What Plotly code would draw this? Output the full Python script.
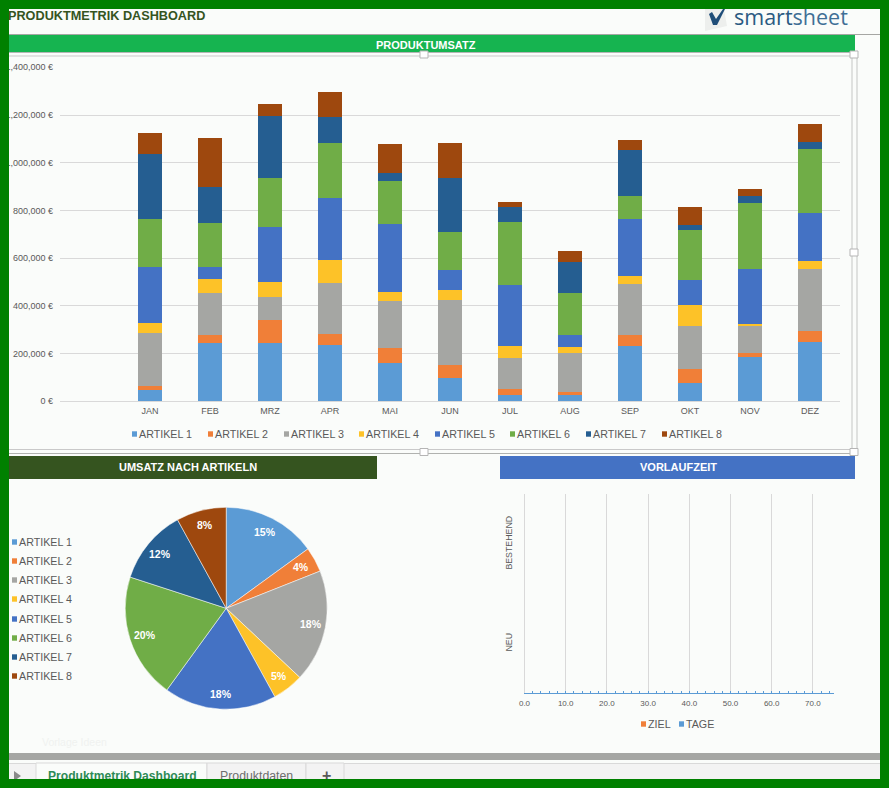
import math
import plotly.graph_objects as go

W, H = 889, 788
months = ["JAN","FEB","MRZ","APR","MAI","JUN","JUL","AUG","SEP","OKT","NOV","DEZ"]
artikel = ["ARTIKEL 1","ARTIKEL 2","ARTIKEL 3","ARTIKEL 4","ARTIKEL 5","ARTIKEL 6","ARTIKEL 7","ARTIKEL 8"]
colors = ["#5B9BD5","#F07F38","#A5A6A3","#FDC228","#4472C4","#70AD47","#255E91","#9E480E"]

a1 = [48,245,245,235,159,98,27,27,232,77,186,250]
a2 = [16,33,96,47,65,53,25,12,46,59,17,45]
a3 = [223,177,97,214,197,274,130,164,214,180,113,260]
a4 = [42,58,63,97,38,42,50,25,34,88,8,34]
a5 = [235,51,229,259,284,84,256,50,238,105,231,200]
a6 = [200,183,206,231,180,158,263,177,96,209,276,269]
a7 = [274,151,260,109,33,227,63,131,193,19,29,29]
a8 = [87,205,50,104,122,147,21,42,42,77,30,76]
series = [a1,a2,a3,a4,a5,a6,a7,a8]

pie_share = [15,4,18,5,18,20,12,8]

lead_cats = ["NEU","BESTEHEND"]
ziel = [0,0]
tage = [0,0]

BG = "#FAFCFA"
GRID = "#D9D9D9"
TXT = "#595959"
FONT = "Liberation Sans"

def px(x): return x / W
def py(y): return 1 - y / H

fig = go.Figure()
for name, vals, c in zip(artikel, series, colors):
    fig.add_trace(go.Bar(x=months, y=[v * 1000 for v in vals], name=name, marker=dict(color=c, line_width=0),
                         width=0.4, showlegend=False, xaxis="x", yaxis="y"))
PIE_CX, PIE_CY, PIE_R = 226.2, 608.3, 101
fig.add_trace(go.Pie(labels=artikel, values=pie_share, sort=False, direction="clockwise", rotation=0,
                     marker=dict(colors=colors, line=dict(color="#FFFFFF", width=0.5)),
                     textinfo="none", showlegend=False,
                     domain=dict(x=[px(PIE_CX - PIE_R), px(PIE_CX + PIE_R)], y=[py(PIE_CY + PIE_R), py(PIE_CY - PIE_R)])))
fig.add_trace(go.Bar(y=lead_cats, x=ziel, name="ZIEL", orientation="h", marker_color="#F07F38",
                     showlegend=False, xaxis="x2", yaxis="y2"))
fig.add_trace(go.Bar(y=lead_cats, x=tage, name="TAGE", orientation="h", marker_color="#5B9BD5",
                     showlegend=False, xaxis="x2", yaxis="y2"))

shapes, ann = [], []
def rect(x0, y0, x1, y1, fill, line=None, lw=0, layer="below"):
    shapes.append(dict(type="rect", xref="paper", yref="paper", x0=px(x0), x1=px(x1), y0=py(y0), y1=py(y1),
                       fillcolor=fill, line=dict(color=line or fill, width=lw), layer=layer))
def hline(x0, x1, y, c, w=1, layer="below"):
    shapes.append(dict(type="line", xref="paper", yref="paper", x0=px(x0), x1=px(x1), y0=py(y), y1=py(y),
                       line=dict(color=c, width=w), layer=layer))
def vline(x, y0, y1, c, w=1, layer="below"):
    shapes.append(dict(type="line", xref="paper", yref="paper", x0=px(x), x1=px(x), y0=py(y0), y1=py(y1),
                       line=dict(color=c, width=w), layer=layer))
def poly(points, fill):
    path = "M" + " L".join(f"{px(x)},{py(y)}" for x, y in points) + " Z"
    shapes.append(dict(type="path", xref="paper", yref="paper", layer="below", fillcolor=fill, line=dict(width=0), path=path))
def text(x, y, s, size=11, color=TXT, bold=False, anchor="left", family=FONT, angle=0):
    ann.append(dict(xref="paper", yref="paper", x=px(x), y=py(y), text=f"<b>{s}</b>" if bold else s, showarrow=False,
                    xanchor=anchor, yanchor="middle", textangle=angle, borderpad=0,
                    font=dict(size=size, color=color, family=family)))
def legend_item(x, y, name, c):
    rect(x, y - 2.7, x + 5, y + 2.7, c)
    text(x + 6.3, y, name, 10.7)

# pie labels, placed along each slice's middle angle
running = 0
total = sum(pie_share)
for share in pie_share:
    mid = (running + share / 2) / total * 2 * math.pi
    running += share
    text(PIE_CX + 0.85 * PIE_R * math.sin(mid), PIE_CY - 0.85 * PIE_R * math.cos(mid), f"{share}%", 10.5, "white", True, "center")

# header
hline(9, 880, 34.5, "#A5A6A3", 1)
rect(9, 35, 855, 52, "#16B450")
hline(9, 855, 52.5, "#B5B5B5", 1)
text(426, 45, "PRODUKTUMSATZ", 11, "white", True, "center")
text(7, 16.5, "PRODUKTMETRIK DASHBOARD", 12.7, "#35541F", True)
text(733, 17, "smart<span style='color:#3F6F96'>sheet</span>", 21.5, "#2A5A82", False, family="Open Sans")
poly([(705,9),(724,9),(727,26),(705,31)], "#EDEFED")
poly([(709,14),(712,12),(716,19),(723,9),(725,9),(717,25),(713,25)], "#1F4E79")

# chart frame
hline(9, 852, 56, "#C9C9C9", 1)
vline(852, 56, 450, "#C4C6C4", 1)
vline(857, 56, 450, "#C4C6C4", 1)
hline(9, 857, 449.5, "#C9C9C9", 1)
hline(9, 857, 453.5, "#B0B2AF", 1)
for hx, hy in [(424,54.5),(854,54.5),(854,252.5),(854,452),(424,452)]:
    rect(hx-4, hy-3.5, hx+4, hy+3.5, "#FFFFFF", "#B5B5B5", 1)

# bands
rect(9, 456, 377, 479, "#35541F")
text(188, 467, "UMSATZ NACH ARTIKELN", 11, "white", True, "center")
rect(500, 456, 855, 479, "#4472C4")
text(678, 467, "VORLAUFZEIT", 11, "white", True, "center")

# legends
for x, n, c in zip([132,208,284,359,435,510,586,662], artikel, colors):
    legend_item(x, 434, n, c)
for y, n, c in zip([542,561,580,599,619,638,657,676], artikel, colors):
    legend_item(12, y, n, c)
legend_item(641, 724, "ZIEL", "#F07F38")
legend_item(679, 724, "TAGE", "#5B9BD5")

# bottom
text(41, 742, "Vorlage Ideen", 10.5, "#F0F2F0")
rect(9, 753, 880, 760, "#A5A6A3")
rect(9, 763, 880, 779, "#F3F3F3")
hline(9, 880, 763.5, "#D9D9D9", 1)
rect(36, 763, 207, 785, "#FAFCFA", "#D9D9D9", 1)
rect(207, 763, 306, 785, "#F3F3F3", "#D9D9D9", 1)
rect(306, 763, 344, 785, "#F3F3F3", "#D9D9D9", 1)
poly([(14,771),(21,776),(14,781)], "#8A8A8A")
text(122, 776, "Produktmetrik Dashboard", 12.1, "#2E8B57", True, "center")
text(256.5, 776, "Produktdaten", 12.3, "#6E6E6E", False, "center")
text(326, 775, "<b>+</b>", 16, "#595959", False, "center")

# outer border: shapes above the plot, covers above the annotations
BORDER = "#008000"
rect(0, 0, 9, H, BORDER, layer="above")
rect(880, 0, W, H, BORDER, layer="above")
rect(0, 0, W, 9, BORDER, layer="above")
rect(0, 779, W, H, BORDER, layer="above")
for x, y, w, h in [(0, 0, 9, H), (0, 779, W, 9)]:
    ann.append(dict(xref="paper", yref="paper", x=px(x), y=py(y), xanchor="left", yanchor="top", text=" ",
                    width=w, height=h, bgcolor=BORDER, showarrow=False, borderpad=0, borderwidth=0,
                    font=dict(size=1, color=BORDER)))

fig.update_layout(
    width=W, height=H, autosize=False, margin=dict(l=0, r=0, t=0, b=0, autoexpand=False),
    paper_bgcolor=BG, plot_bgcolor=BG, barmode="stack", showlegend=False,
    font=dict(family=FONT, size=9, color=TXT),
    xaxis=dict(domain=[px(60), px(840)], range=[-1.5, 11.5], type="category", categoryorder="array", categoryarray=months,
               showgrid=False, showline=True, linecolor=GRID, linewidth=1, ticks="", ticklabelstandoff=1,
               tickfont=dict(size=9, color=TXT), anchor="y"),
    yaxis=dict(domain=[py(401.3), py(67.3)], range=[0, 1400000], dtick=200000, tickformat=",", ticksuffix=" €",
               showgrid=True, gridcolor=GRID, gridwidth=1, zeroline=False, showline=False, ticks="", ticklabelstandoff=6,
               tickfont=dict(size=9, color=TXT), anchor="x"),
    xaxis2=dict(domain=[px(524.5), px(833.5)], range=[0, 75], dtick=10, tick0=0, tickformat=".1f",
                showgrid=True, gridcolor=GRID, gridwidth=1, zeroline=False, showline=True, linecolor="#5B9BD5", linewidth=1,
                ticks="inside", ticklen=2, tickcolor="#5B9BD5", tickwidth=1, ticklabelstandoff=2, tickfont=dict(size=8, color=TXT),
                minor=dict(dtick=2, ticks="inside", ticklen=2, tickcolor="#5B9BD5", tickwidth=1, showgrid=False),
                anchor="y2"),
    yaxis2=dict(domain=[py(693.3), py(494.3)], type="category", categoryorder="array", categoryarray=lead_cats,
                range=[-0.5, 1.5], showgrid=False, zeroline=False, showline=True, linecolor=GRID, linewidth=1, ticks="", tickangle=-90,
                ticklabelstandoff=8, tickfont=dict(size=8.8, color=TXT), anchor="x2"),
    shapes=shapes, annotations=ann,
)
fig.write_html("out.html", config=dict(displayModeBar=False),
               post_script="document.body.style.margin='0';document.body.style.overflow='hidden';")
